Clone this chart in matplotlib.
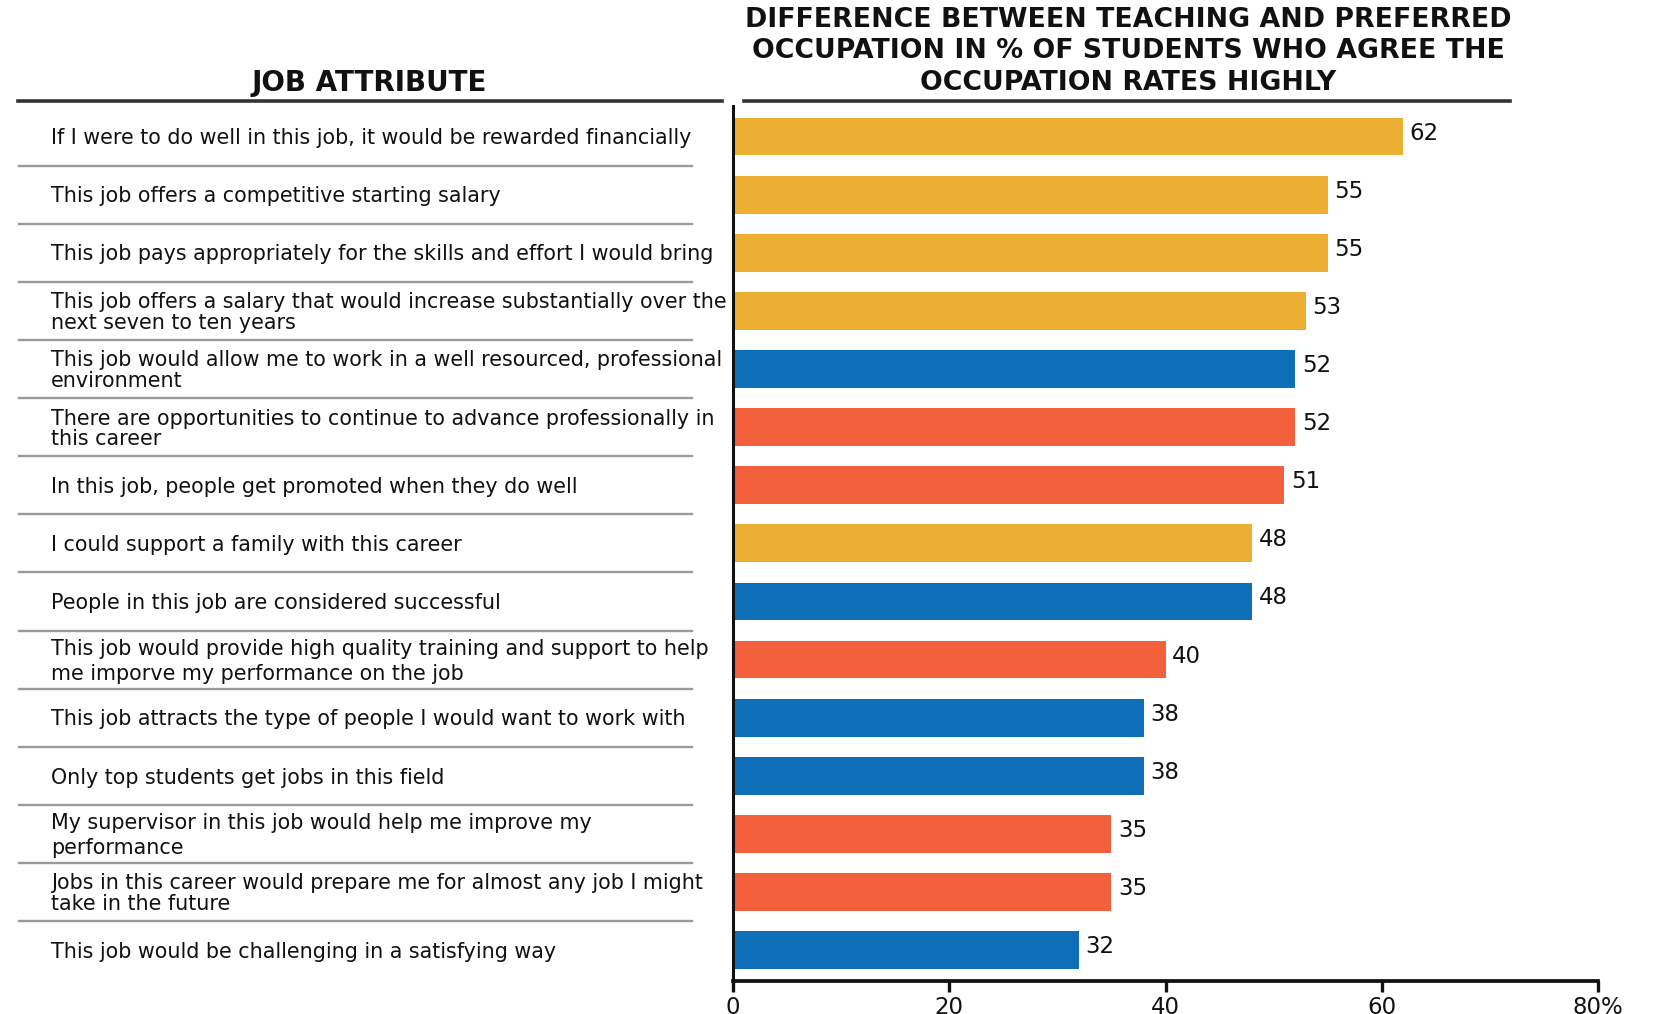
import matplotlib
matplotlib.use("Agg")
import matplotlib.pyplot as plt
import matplotlib.transforms as mtransforms
from matplotlib.lines import Line2D

plt.rcParams['font.family'] = ['DejaVu Sans']

attributes = [
    "If I were to do well in this job, it would be rewarded financially",
    "This job offers a competitive starting salary",
    "This job pays appropriately for the skills and effort I would bring",
    "This job offers a salary that would increase substantially over the\nnext seven to ten years",
    "This job would allow me to work in a well resourced, professional\nenvironment",
    "There are opportunities to continue to advance professionally in\nthis career",
    "In this job, people get promoted when they do well",
    "I could support a family with this career",
    "People in this job are considered successful",
    "This job would provide high quality training and support to help\nme imporve my performance on the job",
    "This job attracts the type of people I would want to work with",
    "Only top students get jobs in this field",
    "My supervisor in this job would help me improve my\nperformance",
    "Jobs in this career would prepare me for almost any job I might\ntake in the future",
    "This job would be challenging in a satisfying way",
]
values = [62, 55, 55, 53, 52, 52, 51, 48, 48, 40, 38, 38, 35, 35, 32]
groups = ["pay", "pay", "pay", "pay", "env", "career", "career", "pay",
          "env", "career", "env", "env", "career", "career", "env"]
group_colors = {"pay": "#ECAE33", "env": "#0E6EB8", "career": "#F2613B"}
xticks = [0, 20, 40, 60, 80]
xticklabels = ["0", "20", "40", "60", "80%"]

W, H = 1653, 1014
fig = plt.figure(figsize=(W / 100, H / 100), dpi=100)
ax_l, ax_r, ax_t, ax_b = 733, 1598, 106, 981
ax = fig.add_axes([ax_l / W, 1 - ax_b / H, (ax_r - ax_l) / W, (ax_b - ax_t) / H])

n = len(values)
ypos = list(range(n))
ax.barh(ypos, values, height=0.65, color=[group_colors[g] for g in groups])
ax.set_xlim(0, 80)
ax.set_ylim(n - 1 + 0.53, -0.525)

for y, v in zip(ypos, values):
    ax.text(v + 0.6, y - 0.06, str(v), va='center', ha='left', fontsize=16.5, color='#111111')

ax.set_xticks(xticks)
ax.set_xticklabels(xticklabels, fontsize=16.5)
ax.set_yticks([])
ax.tick_params(axis='x', direction='out', length=8, width=2.4, pad=3, colors='#111111')
for s in ['top', 'right']:
    ax.spines[s].set_visible(False)
ax.spines['bottom'].set_linewidth(2.7)
ax.spines['left'].set_linewidth(2.2)
ax.spines['bottom'].set_color('#111111')
ax.spines['left'].set_color('#111111')

trans = mtransforms.blended_transform_factory(fig.transFigure, ax.transData)
wide = {9, 12}
for i, lab in enumerate(attributes):
    ax.text(51 / W, i + 0.03, lab, transform=trans, ha='left', va='center',
            fontsize=14.85, color='#111111', linespacing=1.3 if i in wide else 1.04)
for i in range(n - 1):
    ax.add_line(Line2D([19 / W, 692 / W], [i + 0.5, i + 0.5], transform=trans,
                       color='#9a9a9a', linewidth=1.7, clip_on=False))

# headers
fig.text(369 / W, 1 - 83 / H, "JOB ATTRIBUTE", ha='center', va='center',
         fontsize=20, fontweight='bold', color='#111111')
fig.text(1128 / W, 1 - 51.5 / H,
         "DIFFERENCE BETWEEN TEACHING AND PREFERRED\nOCCUPATION IN % OF STUDENTS WHO AGREE THE\nOCCUPATION RATES HIGHLY",
         ha='center', va='center', fontsize=19.3, fontweight='bold', color='#111111',
         linespacing=1.29)
fig.add_artist(Line2D([18 / W, 722 / W], [1 - 101 / H] * 2, transform=fig.transFigure,
                      color='#333333', linewidth=2.6))
fig.add_artist(Line2D([744 / W, 1510 / W], [1 - 101 / H] * 2, transform=fig.transFigure,
                      color='#333333', linewidth=2.6))

fig.savefig("out.png", dpi=100)
